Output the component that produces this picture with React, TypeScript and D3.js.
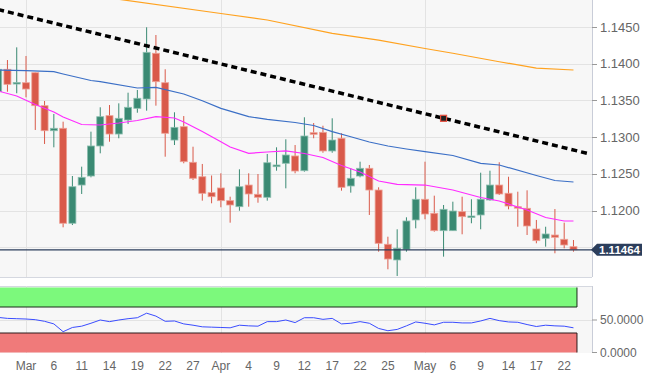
import React from 'react';
import * as d3 from 'd3';

const W = 648;
const H = 376;

// Candle indices run from FIRST_INDEX (Feb 26) to May 23; index 0 = Mar 1
const FIRST_INDEX = -3;
const opens = [1.13619,1.13924,1.13723,1.13741,1.13877,1.13428,1.13087,1.13120,1.11826,1.12347,1.12470,1.12879,1.13292,1.13042,1.13233,1.13392,1.13519,1.14142,1.13741,1.12960,1.13142,1.12657,1.12460,1.12243,1.12307,1.12134,1.12052,1.12347,1.12221,1.12180,1.12597,1.12643,1.12743,1.12542,1.13060,1.13065,1.12811,1.12984,1.12334,1.12470,1.12575,1.12279,1.11540,1.11326,1.11471,1.11871,1.12153,1.11962,1.11725,1.11725,1.11984,1.11916,1.11939,1.12143,1.12347,1.12235,1.12052,1.12030,1.11748,1.11621,1.11666,1.11608,1.11507];
const highs = [1.13955,1.14050,1.14223,1.14105,1.13880,1.13492,1.13315,1.13210,1.12470,1.12597,1.13074,1.13406,1.13437,1.13460,1.13605,1.13642,1.14496,1.14391,1.13924,1.13338,1.13287,1.12869,1.12634,1.12477,1.12507,1.12188,1.12561,1.12507,1.12497,1.12770,1.12861,1.12970,1.12892,1.13270,1.13192,1.13155,1.13256,1.13052,1.12575,1.12665,1.12620,1.12316,1.11643,1.11744,1.11907,1.12316,1.12665,1.12202,1.12075,1.12120,1.12188,1.12153,1.12515,1.12542,1.12657,1.12460,1.12256,1.12275,1.11871,1.11779,1.12020,1.11834,1.11598];
const lows = [1.13601,1.13618,1.13597,1.13542,1.13097,1.12906,1.12861,1.11771,1.11802,1.12225,1.12452,1.12779,1.12937,1.12984,1.13178,1.13332,1.13360,1.13428,1.12733,1.12892,1.12643,1.12416,1.12134,1.12098,1.12044,1.11834,1.11997,1.12052,1.12106,1.12134,1.12542,1.12302,1.12507,1.12529,1.12984,1.12787,1.12787,1.12270,1.12243,1.12452,1.11939,1.11439,1.11199,1.11108,1.11439,1.11757,1.11880,1.11711,1.11371,1.11725,1.11676,1.11826,1.11744,1.12134,1.12211,1.12016,1.11779,1.11666,1.11553,1.11507,1.11417,1.11485,1.11439];
const closes = [1.13924,1.13719,1.13744,1.13655,1.13428,1.13087,1.13120,1.11826,1.12324,1.12452,1.12879,1.13278,1.13042,1.13256,1.13406,1.13529,1.14155,1.13755,1.13052,1.13133,1.12665,1.12439,1.12234,1.12188,1.12134,1.12075,1.12324,1.12225,1.12180,1.12651,1.12620,1.12756,1.12538,1.13015,1.13038,1.12811,1.12960,1.12316,1.12439,1.12575,1.12279,1.11553,1.11339,1.11485,1.11857,1.12153,1.11952,1.11725,1.12016,1.11993,1.11916,1.11925,1.12153,1.12347,1.12225,1.12061,1.12034,1.11789,1.11589,1.11680,1.11635,1.11530,1.11464];

const rsi = [54,52.5,52,51.5,50.5,48,44,32,38.5,40.5,45,50,47.5,50,52,53.5,60.5,56,48,48.5,44,42,39.5,39,38.5,38,42,41,40.5,47.5,47.5,50,46,53.5,53.5,51,52.5,44,45,47.5,45,37,33.5,35.5,41,47,45,42.5,46.5,46.5,45.5,45.5,48.5,52.5,49,47,46.5,43,40,42,41,40.5,38];

// moving averages read at selected candle indices
const maSlowIdx = [9,21,26,33,38,43,46,51,55,59];
const maSlowVal = [1.14895,1.14684,1.14595,1.14414,1.14321,1.14207,1.14142,1.14027,1.13941,1.13914];
const maMidIdx = [-3,0,3,4,7,8,12,14,17,19,21,24,26,29,31,33,35,37,39,41,43,46,49,51,55,57,59];
const maMidVal = [1.13914,1.13905,1.13891,1.13860,1.13771,1.13755,1.13669,1.13678,1.13587,1.13496,1.13392,1.13278,1.13242,1.13199,1.13158,1.13074,1.13005,1.12933,1.12879,1.12838,1.12801,1.12749,1.12643,1.12620,1.12477,1.12409,1.12388];
const maFastIdx = [-3,-1,1,3,4,6,8,10,12,14,16,17,19,21,22,24,26,28,30,32,34,36,38,40,43,46,49,51,54,56,58,59];
const maFastVal = [1.13628,1.13560,1.13444,1.13342,1.13274,1.13172,1.13165,1.13192,1.13226,1.13278,1.13260,1.13206,1.13076,1.12937,1.12865,1.12779,1.12797,1.12811,1.12777,1.12722,1.12613,1.12525,1.12402,1.12357,1.12347,1.12279,1.12177,1.12129,1.12007,1.11905,1.11857,1.11857];

const trendIdx = [-3, 60.5];
const trendVal = [1.14738, 1.12778];
const markerIdx = 45;
const markerVal = 1.13256;

const tickIdx = [0,3,6,9,12,15,18,21,24,27,30,33,36,39,43,46,49,52,55,58];
const tickLabels = ["Mar","6","11","14","19","22","27","Apr","4","9","12","17","22","25","May","6","9","14","17","22"];
const monthIdx = [0,21,43];
const priceTicks = [1.145,1.14,1.135,1.13,1.125,1.12,1.115];
const priceLabels = ["1.1450","1.1400","1.1350","1.1300","1.1250","1.1200"];
const lastPrice = 1.11464;
const rsiTicks = [50, 0];
const rsiLabels = ["50.0000", "0.0000"];

const UP = '#3a8a73';
const DOWN = '#d95a4a';
const FONT = 'Arial, "Liberation Sans", sans-serif';

export default function App() {
  const plotRight = 592;
  const mainTop = 0, mainBottom = 277;
  const subTop = 286, subBottom = 353;

  const x = d3.scaleLinear().domain([0, 58]).range([26, 564.2]);
  const y = d3.scaleLinear().domain([1.145, 1.12]).range([27, 210.5]);
  const yr = d3.scaleLinear().domain([0, 100]).range([352.5, 287.5]);

  const candles = opens.map((o, k) => ({
    i: k + FIRST_INDEX, o, h: highs[k], l: lows[k], c: closes[k],
  }));

  const lineGen = d3.line<[number, number]>().x(d => x(d[0])).y(d => y(d[1]));
  const slow = lineGen(maSlowIdx.map((i, k) => [i, maSlowVal[k]]))!;
  const mid = lineGen(maMidIdx.map((i, k) => [i, maMidVal[k]]))!;
  const fast = lineGen(maFastIdx.map((i, k) => [i, maFastVal[k]]))!;
  const trend = lineGen(trendIdx.map((i, k) => [i, trendVal[k]]))!;
  const rsiLine = d3.line<number>().x((_, k) => x(k + FIRST_INDEX)).y(d => yr(d))(rsi)!;

  const bw = 7;
  const lastY = y(lastPrice);

  return (
    <svg width={W} height={H} style={{ position: 'absolute', left: 0, top: 0, background: '#fff' }} fontFamily={FONT}>
      <defs>
        <clipPath id="mainClip"><rect x={0} y={mainTop} width={plotRight} height={mainBottom - mainTop} /></clipPath>
        <clipPath id="subClip"><rect x={0} y={subTop} width={plotRight} height={subBottom - subTop} /></clipPath>
      </defs>

      {/* main panel */}
      <rect x={0} y={mainTop} width={plotRight} height={mainBottom - mainTop} fill="#f7f7f7" />
      {priceTicks.map(p => (
        <line key={p} x1={0} x2={plotRight} y1={Math.round(y(p)) + 0.5} y2={Math.round(y(p)) + 0.5} stroke="#e3e3e3" strokeWidth={1} />
      ))}
      {monthIdx.map(i => (
        <line key={i} x1={Math.round(x(i)) + 0.5} x2={Math.round(x(i)) + 0.5} y1={mainTop} y2={mainBottom} stroke="#e3e3e3" />
      ))}
      <g clipPath="url(#mainClip)">
        {candles.map(d => {
          const up = d.c >= d.o;
          const col = up ? UP : DOWN;
          const cx = x(d.i);
          const top = y(Math.max(d.o, d.c));
          const bot = y(Math.min(d.o, d.c));
          return (
            <g key={d.i}>
              <line x1={cx} x2={cx} y1={y(d.h)} y2={y(d.l)} stroke={col} strokeWidth={1} />
              <rect x={cx - bw / 2} y={top} width={bw} height={Math.max(1.5, bot - top)} fill={col} stroke={up ? '#8dbfb0' : '#eea196'} strokeWidth={0.8} />
            </g>
          );
        })}
        <path d={slow} fill="none" stroke="#ffa21f" strokeWidth={1.2} />
        <path d={mid} fill="none" stroke="#3b6fc6" strokeWidth={1.2} />
        <path d={fast} fill="none" stroke="#ff2bff" strokeWidth={1.2} />
        <path d={trend} fill="none" stroke="#000" strokeWidth={3.5} strokeDasharray="6 4" />
        <rect x={x(markerIdx) - 3} y={y(markerVal) - 3} width={6} height={6} fill="#222" stroke="#e8503f" strokeWidth={1.2} />
        <line x1={0} x2={plotRight} y1={lastY} y2={lastY} stroke="#2c3e5c" strokeWidth={1.2} />
      </g>
      <line x1={0} x2={plotRight} y1={mainBottom + 0.5} y2={mainBottom + 0.5} stroke="#d5d8e0" />
      <line x1={plotRight + 0.5} x2={plotRight + 0.5} y1={mainTop} y2={mainBottom} stroke="#c9cdd8" />
      {priceLabels.map((lab, k) => (
        <g key={lab}>
          <line x1={plotRight} x2={plotRight + 5} y1={Math.round(y(priceTicks[k])) + 0.5} y2={Math.round(y(priceTicks[k])) + 0.5} stroke="#999" />
          <text x={600} y={y(priceTicks[k])} dy="0.35em" fontSize={13} fill="#666">{lab}</text>
        </g>
      ))}
      <path d={`M${plotRight - 1},${lastY} L${plotRight + 5},${lastY - 6} L642,${lastY - 6} L642,${lastY + 6} L${plotRight + 5},${lastY + 6} Z`} fill="#2c3e5c" />
      <text x={619.5} y={lastY} dy="0.36em" textAnchor="middle" fontSize={11.5} fontWeight="bold" fill="#fff">{lastPrice.toFixed(5)}</text>

      {/* RSI panel */}
      <rect x={0} y={subTop} width={plotRight} height={subBottom - subTop} fill="#f7f7f7" />
      <line x1={0} x2={plotRight} y1={subTop + 0.5} y2={subTop + 0.5} stroke="#d5d8e0" />
      {monthIdx.map(i => (
        <line key={i} x1={Math.round(x(i)) + 0.5} x2={Math.round(x(i)) + 0.5} y1={subTop} y2={subBottom} stroke="#e3e3e3" />
      ))}
      <line x1={0} x2={plotRight} y1={Math.round(yr(50)) + 0.5} y2={Math.round(yr(50)) + 0.5} stroke="#e3e3e3" />
      <g clipPath="url(#subClip)">
        <rect x={0} y={yr(100)} width={x(59) + 3.5} height={yr(70) - yr(100)} fill="#7cf97c" />
        <rect x={0} y={yr(30)} width={x(59) + 3.5} height={yr(0) - yr(30)} fill="#f07a7a" />
        <line x1={0} x2={x(59) + 3.5} y1={yr(70)} y2={yr(70)} stroke="#1a2a1a" strokeWidth={1} />
        <line x1={0} x2={x(59) + 3.5} y1={yr(30)} y2={yr(30)} stroke="#2a1a1a" strokeWidth={1} />
        <line x1={x(59) + 3.5} x2={x(59) + 3.5} y1={yr(100)} y2={yr(70)} stroke="#1a2a1a" strokeWidth={1} />
        <line x1={x(59) + 3.5} x2={x(59) + 3.5} y1={yr(30)} y2={yr(0)} stroke="#2a1a1a" strokeWidth={1} />
        <path d={rsiLine} fill="none" stroke="#3a4cff" strokeWidth={1} />
      </g>
      <line x1={plotRight + 0.5} x2={plotRight + 0.5} y1={subTop} y2={subBottom} stroke="#c9cdd8" />
      {rsiTicks.map((t, k) => (
        <g key={t}>
          <line x1={plotRight} x2={plotRight + 5} y1={yr(t)} y2={yr(t)} stroke="#999" />
          <text x={600} y={yr(t)} dy="0.35em" fontSize={12} fill="#666">{rsiLabels[k]}</text>
        </g>
      ))}

      {/* x axis labels */}
      {tickIdx.map((i, k) => (
        <text key={k} x={x(i)} y={370} textAnchor="middle" fontSize={12} fill="#666">{tickLabels[k]}</text>
      ))}
    </svg>
  );
}
